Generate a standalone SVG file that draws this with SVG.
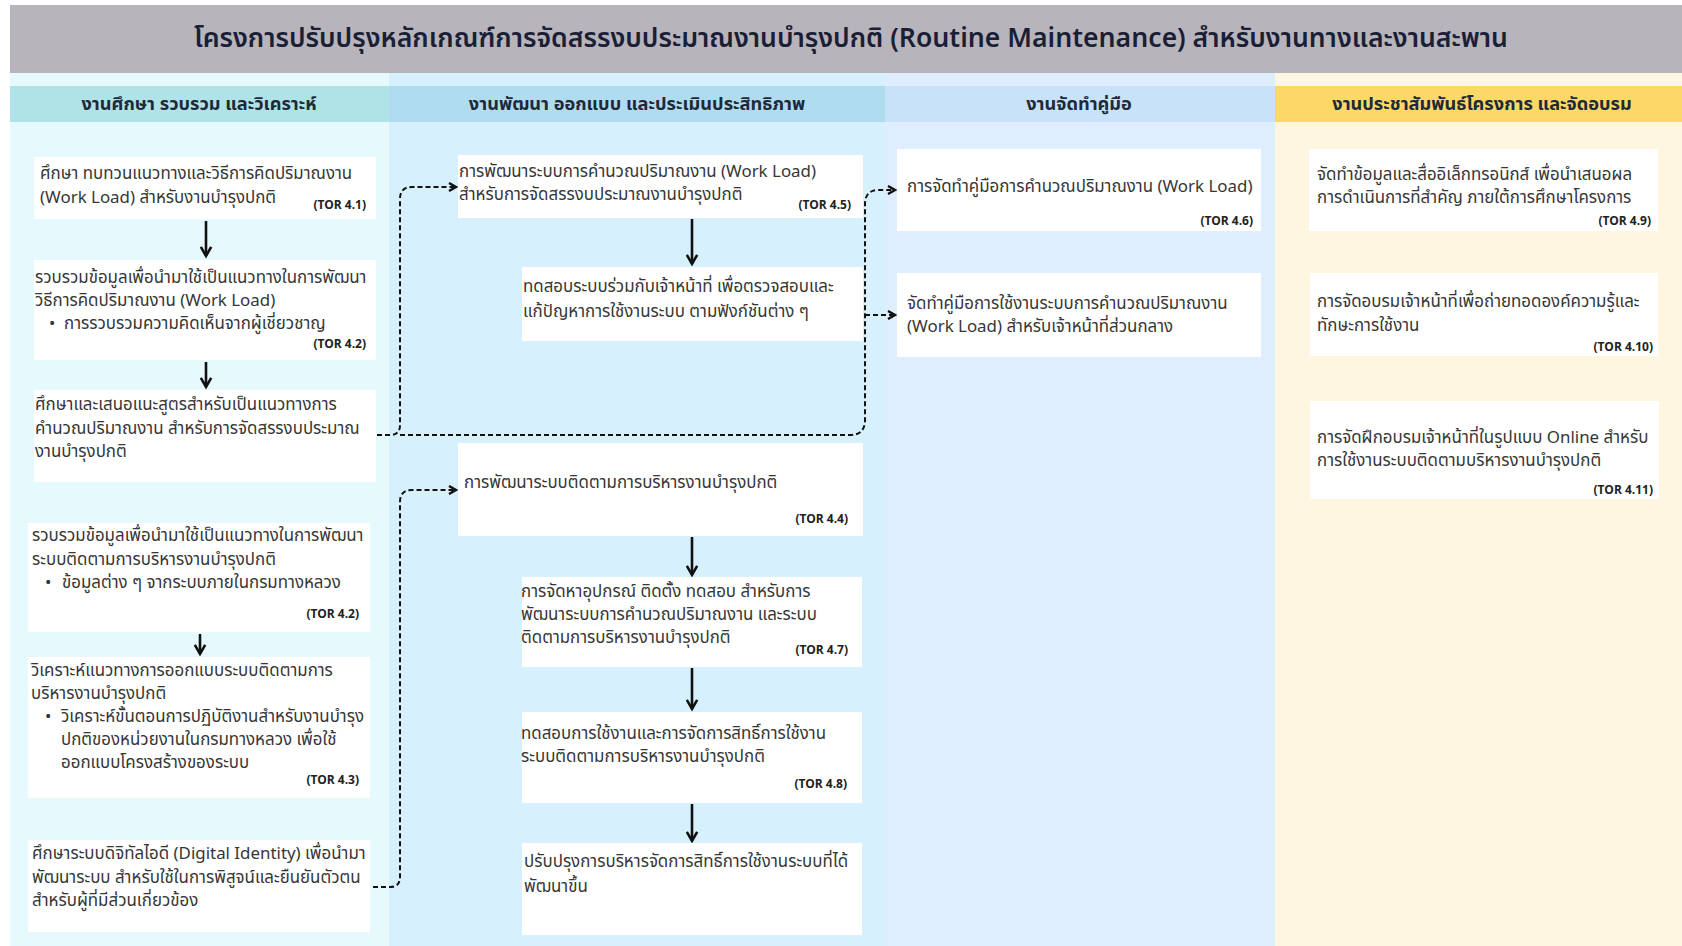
<svg xmlns="http://www.w3.org/2000/svg" width="1682" height="946" viewBox="0 0 1682 946">
<defs>
<style>
.t{font-family:"Noto Sans Thai","Noto Sans","Liberation Sans",sans-serif;font-size:16.9px;fill:#363636}
.tor{font-family:"Noto Sans Thai","Noto Sans","Liberation Sans",sans-serif;font-size:12px;font-weight:bold;fill:#222222;text-anchor:end}
.hd{font-family:"Noto Sans Thai","Noto Sans","Liberation Sans",sans-serif;font-size:18.2px;font-weight:bold;fill:#1e2a3a;text-anchor:middle}
.box{fill:#ffffff}
.solid{fill:none;stroke:#111111;stroke-width:2.6}
.dash{fill:none;stroke:#111111;stroke-width:2;stroke-dasharray:5 3}
</style>
<marker id="ah" viewBox="0 0 10 10" refX="8" refY="5" markerWidth="5" markerHeight="5" orient="auto" markerUnits="strokeWidth">
<path d="M1,1 L8,5 L1,9" fill="none" stroke="#111111" stroke-width="2"/>
</marker>
<marker id="ahd" viewBox="0 0 10 10" refX="8" refY="5" markerWidth="5" markerHeight="5" orient="auto" markerUnits="strokeWidth">
<path d="M1,1 L8,5 L1,9" fill="none" stroke="#111111" stroke-width="2.4"/>
</marker>
</defs>
<rect x="0" y="0" width="1682" height="946" fill="#ffffff"/>
<g id="lanes">
<rect x="10" y="73" width="379" height="873" fill="#e6f9fd"/>
<rect x="389" y="73" width="496" height="873" fill="#d6f1fd"/>
<rect x="885" y="73" width="390" height="873" fill="#dfeefe"/>
<rect x="1275" y="73" width="407" height="873" fill="#fff6e1"/>
<rect x="10" y="86" width="379" height="36" fill="#b0e3e8"/>
<rect x="389" y="86" width="496" height="36" fill="#b0dcef"/>
<rect x="885" y="86" width="390" height="36" fill="#c8e2fa"/>
<rect x="1275" y="86" width="407" height="36" fill="#fcd866"/>
<text class="hd" x="199" y="110">งานศึกษา รวบรวม และวิเคราะห์</text>
<text class="hd" x="637" y="110">งานพัฒนา ออกแบบ และประเมินประสิทธิภาพ</text>
<text class="hd" x="1079" y="110">งานจัดทำคู่มือ</text>
<text class="hd" x="1482" y="110">งานประชาสัมพันธ์โครงการ และจัดอบรม</text>
</g>
<g id="title">
<rect x="10" y="5" width="1672" height="68" fill="#b8b4bc"/>
<text x="851" y="47" text-anchor="middle" style="font-family:'Noto Sans Thai','Noto Sans','Liberation Sans',sans-serif;font-size:26.6px;font-weight:600;fill:#1a1f36">โครงการปรับปรุงหลักเกณฑ์การจัดสรรงบประมาณงานบำรุงปกติ (Routine Maintenance) สำหรับงานทางและงานสะพาน</text>
</g>
<g id="connectors">
<path class="solid" d="M206,221 V256" marker-end="url(#ah)"/>
<path class="solid" d="M206,362 V387" marker-end="url(#ah)"/>
<path class="solid" d="M200,634 V654" marker-end="url(#ah)"/>
<path class="solid" d="M692,219 V264" marker-end="url(#ah)"/>
<path class="solid" d="M692,537 V575" marker-end="url(#ah)"/>
<path class="solid" d="M692,668 V709" marker-end="url(#ah)"/>
<path class="solid" d="M692,804 V841" marker-end="url(#ah)"/>
<path class="dash" d="M377,435 H390 Q400,435 400,425 V199 Q400,187 412,187 H456" marker-end="url(#ahd)"/>
<path class="dash" d="M400,435 H850 Q865,435 865,420 V204 Q865,190 879,190 H895" marker-end="url(#ahd)"/>
<path class="dash" d="M865,315 H895" marker-end="url(#ahd)"/>
<path class="dash" d="M373,887 H390 Q400,887 400,877 V502 Q400,490 412,490 H456" marker-end="url(#ahd)"/>
</g>
<g id="nodeA"><rect class="box" x="34" y="157" width="342" height="62"/>
<text class="t" x="40" y="179">ศึกษา ทบทวนแนวทางและวิธีการคิดปริมาณงาน</text>
<text class="t" x="40" y="203">(Work Load) สำหรับงานบำรุงปกติ</text>
<text class="tor" x="366" y="209">(TOR 4.1)</text></g>
<g id="nodeB"><rect class="box" x="34" y="260" width="342" height="100"/>
<text class="t" x="35" y="283">รวบรวมข้อมูลเพื่อนำมาใช้เป็นแนวทางในการพัฒนา</text>
<text class="t" x="35" y="306">วิธีการคิดปริมาณงาน (Work Load)</text>
<text class="t" x="49" y="329">•</text>
<text class="t" x="64" y="329">การรวบรวมความคิดเห็นจากผู้เชี่ยวชาญ</text>
<text class="tor" x="366" y="348">(TOR 4.2)</text></g>
<g id="nodeC"><rect class="box" x="34" y="390" width="342" height="92"/>
<text class="t" x="35" y="410">ศึกษาและเสนอแนะสูตรสำหรับเป็นแนวทางการ</text>
<text class="t" x="35" y="434">คำนวณปริมาณงาน สำหรับการจัดสรรงบประมาณ</text>
<text class="t" x="35" y="457">งานบำรุงปกติ</text></g>
<g id="nodeD"><rect class="box" x="28" y="523" width="342" height="109"/>
<text class="t" x="32" y="541">รวบรวมข้อมูลเพื่อนำมาใช้เป็นแนวทางในการพัฒนา</text>
<text class="t" x="32" y="565">ระบบติดตามการบริหารงานบำรุงปกติ</text>
<text class="t" x="45" y="588">•</text>
<text class="t" x="62" y="588">ข้อมูลต่าง ๆ จากระบบภายในกรมทางหลวง</text>
<text class="tor" x="359" y="618">(TOR 4.2)</text></g>
<g id="nodeE"><rect class="box" x="28" y="657" width="342" height="141"/>
<text class="t" x="31" y="676">วิเคราะห์แนวทางการออกแบบระบบติดตามการ</text>
<text class="t" x="31" y="699">บริหารงานบำรุงปกติ</text>
<text class="t" x="45" y="722">•</text>
<text class="t" x="61" y="722">วิเคราะห์ขั้นตอนการปฏิบัติงานสำหรับงานบำรุง</text>
<text class="t" x="61" y="745">ปกติของหน่วยงานในกรมทางหลวง เพื่อใช้</text>
<text class="t" x="61" y="768">ออกแบบโครงสร้างของระบบ</text>
<text class="tor" x="359" y="784">(TOR 4.3)</text></g>
<g id="nodeF"><rect class="box" x="28" y="840" width="342" height="92"/>
<text class="t" x="32" y="859">ศึกษาระบบดิจิทัลไอดี (Digital Identity) เพื่อนำมา</text>
<text class="t" x="32" y="883">พัฒนาระบบ สำหรับใช้ในการพิสูจน์และยืนยันตัวตน</text>
<text class="t" x="32" y="906">สำหรับผู้ที่มีส่วนเกี่ยวข้อง</text></g>
<g id="nodeG"><rect class="box" x="458" y="155" width="405" height="63"/>
<text class="t" x="459" y="177">การพัฒนาระบบการคำนวณปริมาณงาน (Work Load)</text>
<text class="t" x="459" y="200">สำหรับการจัดสรรงบประมาณงานบำรุงปกติ</text>
<text class="tor" x="851" y="209">(TOR 4.5)</text></g>
<g id="nodeH"><rect class="box" x="522" y="267" width="341" height="74"/>
<text class="t" x="523" y="292">ทดสอบระบบร่วมกับเจ้าหน้าที่ เพื่อตรวจสอบและ</text>
<text class="t" x="523" y="317">แก้ปัญหาการใช้งานระบบ ตามฟังก์ชันต่าง ๆ</text></g>
<g id="nodeI"><rect class="box" x="458" y="443" width="405" height="93"/>
<text class="t" x="464" y="488">การพัฒนาระบบติดตามการบริหารงานบำรุงปกติ</text>
<text class="tor" x="848" y="523">(TOR 4.4)</text></g>
<g id="nodeJ"><rect class="box" x="522" y="577" width="340" height="90"/>
<text class="t" x="521" y="597">การจัดหาอุปกรณ์ ติดตั้ง ทดสอบ สำหรับการ</text>
<text class="t" x="521" y="620">พัฒนาระบบการคำนวณปริมาณงาน และระบบ</text>
<text class="t" x="521" y="643">ติดตามการบริหารงานบำรุงปกติ</text>
<text class="tor" x="848" y="654">(TOR 4.7)</text></g>
<g id="nodeK"><rect class="box" x="522" y="712" width="340" height="91"/>
<text class="t" x="521" y="739">ทดสอบการใช้งานและการจัดการสิทธิ์การใช้งาน</text>
<text class="t" x="521" y="762">ระบบติดตามการบริหารงานบำรุงปกติ</text>
<text class="tor" x="847" y="788">(TOR 4.8)</text></g>
<g id="nodeL"><rect class="box" x="522" y="843" width="340" height="92"/>
<text class="t" x="524" y="867">ปรับปรุงการบริหารจัดการสิทธิ์การใช้งานระบบที่ได้</text>
<text class="t" x="524" y="892">พัฒนาขึ้น</text></g>
<g id="nodeM"><rect class="box" x="897" y="149" width="364" height="82"/>
<text class="t" x="907" y="192">การจัดทำคู่มือการคำนวณปริมาณงาน (Work Load)</text>
<text class="tor" x="1253" y="225">(TOR 4.6)</text></g>
<g id="nodeN"><rect class="box" x="897" y="273" width="364" height="84"/>
<text class="t" x="907" y="309">จัดทำคู่มือการใช้งานระบบการคำนวณปริมาณงาน</text>
<text class="t" x="907" y="332">(Work Load) สำหรับเจ้าหน้าที่ส่วนกลาง</text></g>
<g id="nodeO"><rect class="box" x="1309" y="149" width="349" height="82"/>
<text class="t" x="1317" y="180">จัดทำข้อมูลและสื่ออิเล็กทรอนิกส์ เพื่อนำเสนอผล</text>
<text class="t" x="1317" y="203">การดำเนินการที่สำคัญ ภายใต้การศึกษาโครงการ</text>
<text class="tor" x="1651" y="225">(TOR 4.9)</text></g>
<g id="nodeP"><rect class="box" x="1310" y="273" width="348" height="83"/>
<text class="t" x="1317" y="307">การจัดอบรมเจ้าหน้าที่เพื่อถ่ายทอดองค์ความรู้และ</text>
<text class="t" x="1317" y="331">ทักษะการใช้งาน</text>
<text class="tor" x="1653" y="351">(TOR 4.10)</text></g>
<g id="nodeQ"><rect class="box" x="1310" y="401" width="349" height="98"/>
<text class="t" x="1317" y="443">การจัดฝึกอบรมเจ้าหน้าที่ในรูปแบบ Online สำหรับ</text>
<text class="t" x="1317" y="466">การใช้งานระบบติดตามบริหารงานบำรุงปกติ</text>
<text class="tor" x="1653" y="494">(TOR 4.11)</text></g>
</svg>
